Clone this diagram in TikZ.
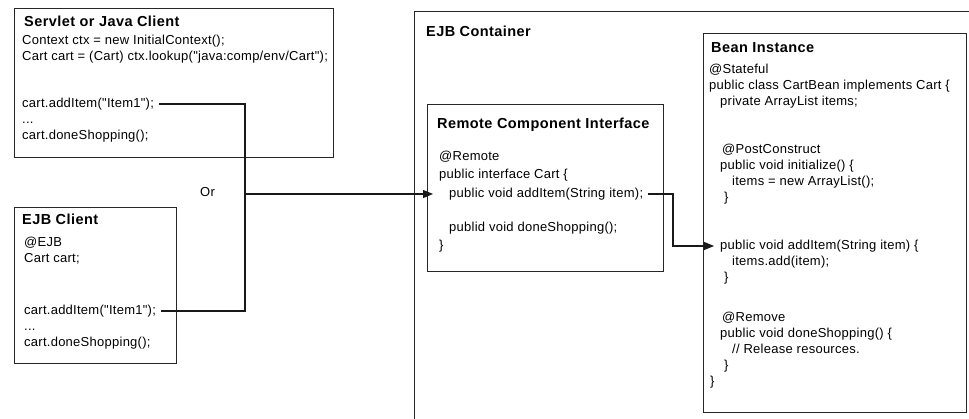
\documentclass[tikz,border=0pt]{standalone}
\usepackage{fontspec}
\setmainfont{Liberation Sans}
\newfontfamily\codefont[LetterSpace=2]{Liberation Sans}
\newfontfamily\titlefont[LetterSpace=3]{Liberation Sans}
\usetikzlibrary{arrows.meta}
\begin{document}
\begin{tikzpicture}[x=1pt,y=-1pt,
  box/.style={draw=black!85, line width=1.2pt, inner sep=0pt, anchor=north west},
  ttl/.style={anchor=west, inner sep=0pt, text height=11pt, text depth=3pt, font={\titlefont\fontsize{14.5}{16}\selectfont\bfseries}},
  code/.style={anchor=west, inner sep=0pt, text height=9.5pt, text depth=3pt, font={\codefont\fontsize{13}{15}\selectfont}},
  conn/.style={draw=black!90, line width=1.1pt},
  arr/.style={conn, -{Triangle[length=10pt,width=8pt]}}]
\useasboundingbox (0,0) rectangle (969,419);
\clip (0,0) rectangle (969,419);

% boxes
\node[box, minimum width=319pt, minimum height=149pt] (servlet) at (14,8) {};
\node[box, minimum width=162pt, minimum height=156pt] (ejbclient) at (14,207) {};
\node[box, minimum width=566pt, minimum height=420pt] (container) at (414,11) {};
\node[box, minimum width=236pt, minimum height=167pt] (remote) at (427,104) {};
\node[box, minimum width=263pt, minimum height=379pt] (bean) at (703,33) {};

% Servlet or Java Client
\node[ttl] (st) at (24,23) {Servlet or Java Client};
\node[code] (s1) at (22,41) {Context ctx = new InitialContext();};
\node[code] (s2) at (22,57) {Cart cart = (Cart) ctx.lookup("java:comp/env/Cart");};
\node[code] (sadd) at (22,104) {cart.addItem("Item1");};
\node[code] (s4) at (22,120) {...};
\node[code] (s5) at (22,136) {cart.doneShopping();};

% EJB Client
\node[ttl] (et) at (22,221) {EJB Client};
\node[code] (e1) at (24,243) {@EJB};
\node[code] (e2) at (24,259) {Cart cart;};
\node[code] (eadd) at (24,311) {cart.addItem("Item1");};
\node[code] (e4) at (24,327) {...};
\node[code] (e5) at (24,343) {cart.doneShopping();};

% Or
\node[code] (or) at (200,193) {Or};

% EJB Container
\node[ttl] (ct) at (426,33) {EJB Container};

% Remote Component Interface
\node[ttl] (rt) at (437,125) {Remote Component Interface};
\node[code] (r1) at (439,157) {@Remote};
\node[code] (r2) at (439,175) {public interface Cart \{};
\node[code] (radd) at (449,194) {public void addItem(String item);};
\node[code] (r4) at (449,228) {publid void doneShopping();};
\node[code] (r5) at (439,246) {\}};

% Bean Instance
\node[ttl] (bt) at (711,49) {Bean Instance};
\node[code] (b1) at (709,70) {@Stateful};
\node[code] (b2) at (709,86) {public class CartBean implements Cart \{};
\node[code] (b3) at (720,102) {private ArrayList items;};
\node[code] (b4) at (722,150) {@PostConstruct};
\node[code] (b5) at (720,166) {public void initialize() \{};
\node[code] (b6) at (732,182) {items = new ArrayList();};
\node[code] (b7) at (724,198) {\}};
\node[code] (badd) at (720,246) {public void addItem(String item) \{};
\node[code] (b9) at (732,262) {items.add(item);};
\node[code] (b10) at (724,278) {\}};
\node[code] (b11) at (722,318) {@Remove};
\node[code] (b12) at (720,334) {public void doneShopping() \{};
\node[code] (b13) at (732,350) {// Release resources.};
\node[code] (b14) at (724,366) {\}};
\node[code] (b15) at (710,382) {\}};

% connectors
\coordinate (jor) at (245,194);
\coordinate (jb) at (673,246);
\draw[conn] ([xshift=5pt]sadd.east) -| (jor);
\draw[conn] ([xshift=5pt]eadd.east) -| (jor);
\draw[arr] (jor) -- ([xshift=-16pt]radd.west);
\draw[arr] ([xshift=5pt]radd.east) -| (jb) -- ([xshift=-6pt]badd.west);
\end{tikzpicture}
\end{document}
